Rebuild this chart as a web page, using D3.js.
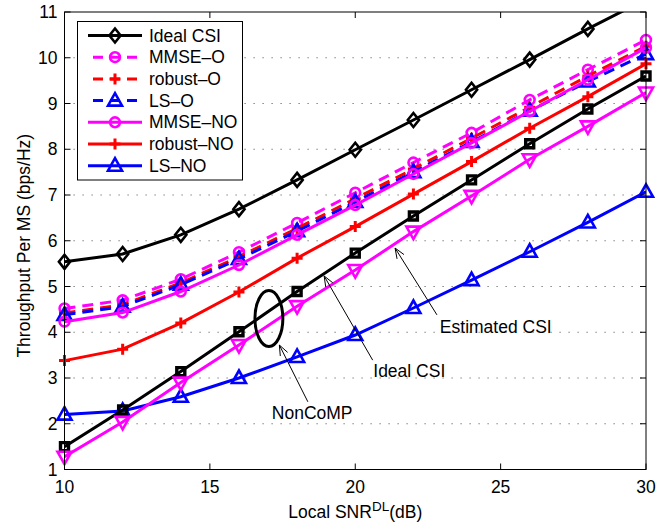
<!DOCTYPE html>
<html>
<head>
<meta charset="utf-8">
<script src="https://cdn.jsdelivr.net/npm/d3@7"></script>
<style>
  html, body { margin: 0; padding: 0; background: #fff; }
  svg { display: block; font-family: "Liberation Sans", Arial, sans-serif; }
</style>
</head>
<body>
<svg id="chart" width="657" height="527"></svg>
<script>
// Throughput per MS vs local downlink SNR

const snr = [10, 12, 14, 16, 18, 20, 22, 24, 26, 28, 30];

const idealCSI = [5.54, 5.71, 6.13, 6.69, 7.33, 7.99, 8.64, 9.30, 9.96, 10.63, 11.28];
const mmseO    = [4.52, 4.70, 5.16, 5.75, 6.39, 7.05, 7.71, 8.36, 9.08, 9.74, 10.39];
const robustO  = [4.42, 4.60, 5.08, 5.65, 6.27, 6.92, 7.57, 8.24, 8.92, 9.60, 10.25];
const lsO      = [4.38, 4.56, 5.04, 5.60, 6.21, 6.85, 7.50, 8.16, 8.84, 9.48, 10.08];
const mmseNO   = [4.23, 4.43, 4.89, 5.47, 6.13, 6.78, 7.46, 8.14, 8.83, 9.52, 10.22];
const robustNO = [3.38, 3.63, 4.20, 4.88, 5.62, 6.31, 7.02, 7.73, 8.46, 9.15, 9.87];
const lsNO     = [2.20, 2.28, 2.59, 3.00, 3.46, 3.94, 4.53, 5.14, 5.76, 6.40, 7.07];
// NonCoMP curves (not in the legend)
const nonCompIdeal = [1.50, 2.30, 3.14, 4.01, 4.89, 5.73, 6.54, 7.33, 8.12, 8.88, 9.60];
const nonCompEst   = [1.28, 2.04, 2.90, 3.72, 4.57, 5.36, 6.20, 6.98, 7.78, 8.50, 9.24];

const legendLabels = ['Ideal CSI', 'MMSE\u2013O', 'robust\u2013O', 'LS\u2013O', 'MMSE\u2013NO', 'robust\u2013NO', 'LS\u2013NO'];
const xTicks = [10, 15, 20, 25, 30];
const yTicks = [1, 2, 3, 4, 5, 6, 7, 8, 9, 10, 11];

// annotation anchors, in data units
const ellipseNonComp = { x: 17.03, y: 4.30, rx: 0.48, ry: 0.61 };
const annotations = [
    { text: 'NonCoMP', tx: 17.13, ty: 2.10, from: [18.37, 2.48], to: [17.39, 3.72] },
    { text: 'Ideal CSI', tx: 20.62, ty: 3.03, from: [20.60, 3.39], to: [18.93, 5.23] },
    { text: 'Estimated CSI', tx: 22.91, ty: 3.98, from: [22.81, 4.38], to: [21.37, 5.84] }
];

const series = [
    { label: legendLabels[0], data: idealCSI, color: '#000', dash: null, marker: 'diamond' },
    { label: legendLabels[1], data: mmseO, color: '#ff00ff', dash: '11,7', marker: 'circle' },
    { label: legendLabels[2], data: robustO, color: '#ff0000', dash: '11,7', marker: 'plus' },
    { label: legendLabels[3], data: lsO, color: '#0000ff', dash: '11,7', marker: 'triangle' },
    { label: legendLabels[4], data: mmseNO, color: '#ff00ff', dash: null, marker: 'circle' },
    { label: legendLabels[5], data: robustNO, color: '#ff0000', dash: null, marker: 'plus' },
    { label: legendLabels[6], data: lsNO, color: '#0000ff', dash: null, marker: 'triangle' },
    { label: null, data: nonCompIdeal, color: '#000', dash: null, marker: 'square' },
    { label: null, data: nonCompEst, color: '#ff00ff', dash: null, marker: 'triangleDown' }
];

const FONT = '17.5px';
const svg = d3.select('#chart');

const x = d3.scaleLinear().domain([10, 30]).range([64.5, 646]);
const y = d3.scaleLinear().domain([1, 11]).range([469.5, 12]);
const [x0, x1] = x.range();
const [y0, y1] = y.range();

svg.append('defs').append('clipPath').attr('id', 'plot-clip')
    .append('rect')
    .attr('x', x0).attr('y', y1)
    .attr('width', x1 - x0).attr('height', y0 - y1);

// dotted horizontal grid
svg.append('g')
    .selectAll('line')
    .data(yTicks.slice(1, -1))
    .join('line')
    .attr('x1', x0).attr('x2', x1)
    .attr('y1', d => y(d)).attr('y2', d => y(d))
    .attr('stroke', '#666')
    .attr('stroke-width', 1)
    .attr('stroke-dasharray', '1.2,7.8');

function drawMarker(g, type, cx, cy, color) {
    const m = g.append('path')
        .attr('fill', 'none')
        .attr('stroke', color)
        .attr('stroke-width', 2.6)
        .attr('stroke-linejoin', 'miter')
        .attr('transform', `translate(${cx},${cy})`);
    if (type === 'diamond') {
        m.attr('d', 'M0,-7L5.6,0L0,7L-5.6,0Z');
    } else if (type === 'circle') {
        m.attr('d', d3.arc()({ innerRadius: 0, outerRadius: 4.9, startAngle: 0, endAngle: 2 * Math.PI }));
    } else if (type === 'plus') {
        m.attr('d', 'M-5.5,0H5.5M0,-5.5V5.5').attr('stroke-width', 3);
    } else if (type === 'triangle') {
        m.attr('d', 'M0,-7.5L7,5L-7,5Z');
    } else if (type === 'triangleDown') {
        m.attr('d', 'M0,7.5L7,-5L-7,-5Z');
    } else if (type === 'square') {
        m.attr('d', 'M-4,-4H4V4H-4Z').attr('stroke-width', 3.4);
    }
}

const line = d3.line()
    .x((d, i) => x(snr[i]))
    .y(d => y(d));

const plot = svg.append('g');

series.forEach(s => {
    plot.append('path')
        .datum(s.data)
        .attr('clip-path', 'url(#plot-clip)')
        .attr('fill', 'none')
        .attr('stroke', s.color)
        .attr('stroke-width', 3)
        .attr('stroke-dasharray', s.dash)
        .attr('d', line);
    s.data.forEach((v, i) => {
        if (v > y.domain()[1]) return; // out of axes, marker not shown
        drawMarker(plot, s.marker, x(snr[i]), y(v), s.color);
    });
});

// axes box with inward ticks on all sides
const axes = svg.append('g').attr('stroke', '#000').attr('stroke-width', 1);
axes.append('rect')
    .attr('x', x0).attr('y', y1)
    .attr('width', x1 - x0).attr('height', y0 - y1)
    .attr('fill', 'none');
xTicks.forEach(t => {
    axes.append('line').attr('x1', x(t)).attr('x2', x(t)).attr('y1', y0).attr('y2', y0 - 6);
    axes.append('line').attr('x1', x(t)).attr('x2', x(t)).attr('y1', y1).attr('y2', y1 + 6);
});
yTicks.forEach(t => {
    axes.append('line').attr('x1', x0).attr('x2', x0 + 6).attr('y1', y(t)).attr('y2', y(t));
    axes.append('line').attr('x1', x1).attr('x2', x1 - 6).attr('y1', y(t)).attr('y2', y(t));
});

svg.append('g')
    .selectAll('text')
    .data(xTicks)
    .join('text')
    .attr('x', d => x(d))
    .attr('y', y0 + 23)
    .attr('text-anchor', 'middle')
    .attr('font-size', FONT)
    .text(d => d);

svg.append('g')
    .selectAll('text')
    .data(yTicks)
    .join('text')
    .attr('x', x0 - 7)
    .attr('y', d => y(d))
    .attr('dy', '0.35em')
    .attr('text-anchor', 'end')
    .attr('font-size', FONT)
    .text(d => d);

// axis labels
const xLabel = svg.append('text')
    .attr('x', (x0 + x1) / 2)
    .attr('y', 518)
    .attr('text-anchor', 'middle')
    .attr('font-size', FONT);
xLabel.append('tspan').text('Local SNR');
xLabel.append('tspan').attr('dy', -7).attr('font-size', '13.5px').text('DL');
xLabel.append('tspan').attr('dy', 7).text('(dB)');

svg.append('text')
    .attr('transform', `translate(30,${(y0 + y1) / 2 + 5}) rotate(-90)`)
    .attr('text-anchor', 'middle')
    .attr('font-size', FONT)
    .text('Throughput Per MS (bps/Hz)');

// annotations
svg.append('ellipse')
    .attr('cx', x(ellipseNonComp.x))
    .attr('cy', y(ellipseNonComp.y))
    .attr('rx', x(ellipseNonComp.x + ellipseNonComp.rx) - x(ellipseNonComp.x))
    .attr('ry', y(ellipseNonComp.y) - y(ellipseNonComp.y + ellipseNonComp.ry))
    .attr('fill', 'none')
    .attr('stroke', '#000')
    .attr('stroke-width', 3);

annotations.forEach(a => {
    const fx = x(a.from[0]), fy = y(a.from[1]);
    const tx = x(a.to[0]), ty = y(a.to[1]);
    const ang = Math.atan2(ty - fy, tx - fx);
    const head = 11, spread = 0.38;
    svg.append('path')
        .attr('fill', 'none')
        .attr('stroke', '#000')
        .attr('stroke-width', 1)
        .attr('d', `M${fx},${fy}L${tx},${ty}` +
            `M${tx - head * Math.cos(ang - spread)},${ty - head * Math.sin(ang - spread)}L${tx},${ty}` +
            `L${tx - head * Math.cos(ang + spread)},${ty - head * Math.sin(ang + spread)}`);
    svg.append('text')
        .attr('x', x(a.tx))
        .attr('y', y(a.ty))
        .attr('font-size', FONT)
        .text(a.text);
});

// legend
const legend = svg.append('g');
legend.append('rect')
    .attr('x', 77.5).attr('y', 21.5)
    .attr('width', 165).attr('height', 158.5)
    .attr('fill', '#fff')
    .attr('stroke', '#000')
    .attr('stroke-width', 1);

series.filter(s => s.label).forEach((s, i) => {
    const ry = 35.5 + i * 21.7;
    legend.append('line')
        .attr('x1', s.dash ? 93 : 88).attr('x2', 142)
        .attr('y1', ry).attr('y2', ry)
        .attr('stroke', s.color)
        .attr('stroke-width', 3)
        .attr('stroke-dasharray', s.dash ? '10,7' : null);
    drawMarker(legend, s.marker, 115, ry, s.color);
    legend.append('text')
        .attr('x', 149)
        .attr('y', ry)
        .attr('dy', '0.35em')
        .attr('font-size', FONT)
        .text(s.label);
});
</script>
</body>
</html>
